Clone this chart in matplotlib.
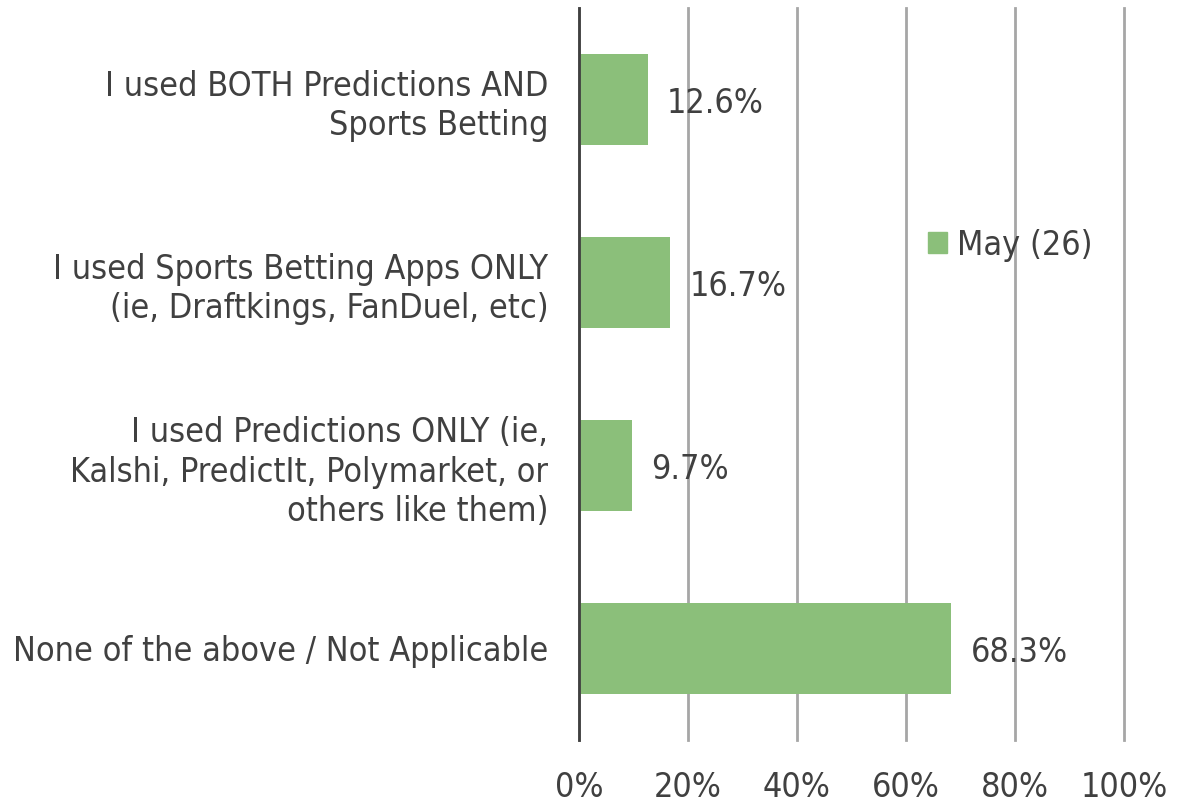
import matplotlib
matplotlib.use("Agg")
import matplotlib.pyplot as plt
from matplotlib.patches import Patch

categories = [
    "I used BOTH Predictions AND\nSports Betting",
    "I used Sports Betting Apps ONLY\n(ie, Draftkings, FanDuel, etc)",
    "I used Predictions ONLY (ie,\nKalshi, PredictIt, Polymarket, or\nothers like them)",
    "None of the above / Not Applicable",
]
values = [12.6, 16.7, 9.7, 68.3]
series_name = "May (26)"
xticks = [0, 20, 40, 60, 80, 100]

plt.rcParams['font.family'] = ['DejaVu Sans']
plt.rcParams['font.stretch'] = 'condensed'
text_color = '#404040'
bar_color = '#8BBF7A'
FS = 24.5

fig = plt.figure(figsize=(11.77, 8.06), dpi=100)
ax = fig.add_axes([579/1177, 1-740/806, 545/1177, 732/806])

ypos = list(range(len(categories)))
ax.barh(ypos, values, height=0.5, color=bar_color, zorder=3)
for y, v in zip(ypos, values):
    ax.annotate(f"{v:.1f}%", xy=(v, y), xytext=(14, -3), textcoords='offset points',
                va='center', ha='left', fontsize=FS, color=text_color, zorder=4)

ax.set_xlim(0, 100)
ax.set_ylim(len(categories)-0.5, -0.5)
ax.set_yticks(ypos)
ax.set_yticklabels(categories, fontsize=FS, color=text_color, linespacing=1.24)
ax.set_xticks(xticks)
ax.set_xticklabels([f"{t}%" for t in xticks], fontsize=FS, color=text_color)
ax.tick_params(axis='both', length=0)
ax.tick_params(axis='x', pad=22)
ax.tick_params(axis='y', pad=22)
ax.xaxis.grid(True, color='#A6A6A6', linewidth=2, zorder=1)
ax.set_axisbelow(True)
for gl in ax.get_xgridlines():
    gl.set_clip_on(False)
for s in ['top', 'right', 'bottom']:
    ax.spines[s].set_visible(False)
ax.spines['left'].set_color('#404040')
ax.spines['left'].set_linewidth(2)
ax.spines['left'].set_zorder(5)

leg = ax.legend(handles=[Patch(color=bar_color, label=series_name)],
                loc='center left', bbox_to_anchor=(0.585, 0.676), frameon=False,
                fontsize=FS, handlelength=0.55, handleheight=0.55, handletextpad=0.3,
                labelcolor=text_color)

fig.savefig("out.png", dpi=100)
